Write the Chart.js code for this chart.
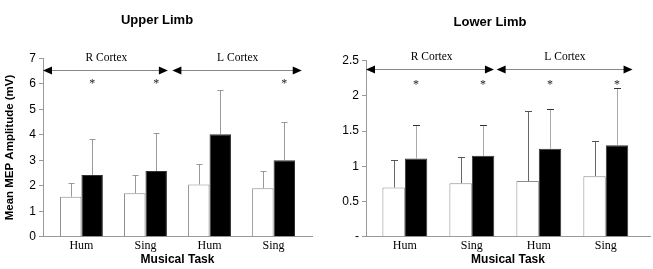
<!DOCTYPE html>
<html>
<head>
<meta charset="utf-8">
<script src="https://cdn.jsdelivr.net/npm/chart.js@4.4.1/dist/chart.umd.min.js"></script>
<style>
  html, body { margin: 0; padding: 0; background: #fff; }
  #wrap { position: relative; width: 653px; height: 269px; }
  #c1 { position: absolute; left: 0; top: 0; }
  #c2 { position: absolute; left: 330px; top: 0; }
</style>
</head>
<body>
<div id="wrap">
  <canvas id="c1" width="330" height="269"></canvas>
  <canvas id="c2" width="323" height="269"></canvas>
</div>
<script>
// ---- data ----
const categories = ['Hum', 'Sing', 'Hum', 'Sing'];

const upperWhite   = [1.57, 1.70, 2.05, 1.90];
const upperBlack   = [2.42, 2.58, 4.02, 3.00];
const upperWhiteSD = [0.52, 0.74, 0.79, 0.66];
const upperBlackSD = [1.40, 1.47, 1.73, 1.49];
const upperSig     = [true, true, false, true];
const upperTicks   = [0, 1, 2, 3, 4, 5, 6, 7];

const lowerWhite   = [0.70, 0.76, 0.79, 0.86];
const lowerBlack   = [1.11, 1.15, 1.25, 1.30];
const lowerWhiteSD = [0.39, 0.37, 1.00, 0.50];
const lowerBlackSD = [0.48, 0.44, 0.57, 0.81];
const lowerSig     = [true, true, true, true];
const lowerTicks   = [0, 0.5, 1, 1.5, 2, 2.5];
const lowerTickLabels = ['-', '0.5', '1', '1.5', '2', '2.5'];

const cortexLabels = ['R Cortex', 'L Cortex'];

const SANS = "'Liberation Sans', Arial, sans-serif";
const SERIF = "'Liberation Serif', 'Times New Roman', serif";

// ---- annotation plugin: error bars, asterisks, arrows, cortex labels ----
const annotPlugin = {
  id: 'annot',
  afterDatasetsDraw(chart, args, o) {
    const ctx = chart.ctx;
    const xs = chart.scales.x, ys = chart.scales.y;
    ctx.save();
    // error bars (upward only)
    o.sds.forEach((sd, d) => {
      const meta = chart.getDatasetMeta(d);
      const vals = chart.data.datasets[d].data;
      meta.data.forEach((bar, i) => {
        const v = vals[i].y;
        const yTop = ys.getPixelForValue(v + sd[i]);
        const x = Math.round(bar.x) + 0.5;
        ctx.strokeStyle = o.errLine[d];
        ctx.lineWidth = 1;
        ctx.beginPath();
        ctx.moveTo(x, bar.y);
        ctx.lineTo(x, Math.round(yTop) + 0.5);
        ctx.stroke();
        ctx.strokeStyle = o.errCap[d];
        ctx.beginPath();
        ctx.moveTo(x - o.cap / 2, Math.round(yTop) + 0.5);
        ctx.lineTo(x + o.cap / 2, Math.round(yTop) + 0.5);
        ctx.stroke();
      });
    });
    // asterisks over black bars
    const bmeta = chart.getDatasetMeta(1);
    ctx.fillStyle = '#222';
    ctx.font = '12px ' + SERIF;
    ctx.textAlign = 'center';
    ctx.textBaseline = 'middle';
    o.sig.forEach((s, i) => {
      if (!s) return;
      ctx.fillText('*', bmeta.data[i].x, ys.getPixelForValue(o.sigY) + 2);
    });
    // arrows
    const ay = Math.round(ys.getPixelForValue(o.arrowY)) + 0.5;
    o.arrows.forEach(([a, b]) => {
      const x0 = xs.getPixelForValue(a), x1 = xs.getPixelForValue(b);
      ctx.strokeStyle = '#888';
      ctx.lineWidth = 1;
      ctx.beginPath();
      ctx.moveTo(x0 + 6, ay);
      ctx.lineTo(x1 - 6, ay);
      ctx.stroke();
      ctx.fillStyle = '#000';
      ctx.beginPath();
      ctx.moveTo(x0, ay); ctx.lineTo(x0 + 9, ay - 4); ctx.lineTo(x0 + 9, ay + 4); ctx.closePath();
      ctx.fill();
      ctx.beginPath();
      ctx.moveTo(x1, ay); ctx.lineTo(x1 - 9, ay - 4); ctx.lineTo(x1 - 9, ay + 4); ctx.closePath();
      ctx.fill();
    });
    // cortex labels
    ctx.fillStyle = '#000';
    ctx.font = '11.5px ' + SERIF;
    ctx.textBaseline = 'middle';
    o.labelX.forEach((lx, k) => {
      ctx.fillText(cortexLabels[k], xs.getPixelForValue(lx), ay - 13);
    });
    ctx.restore();
  }
};

function makeChart(id, cfg) {
  const toXY = arr => arr.map((v, i) => ({ x: i, y: v }));
  return new Chart(document.getElementById(id), {
    type: 'bar',
    data: {
      datasets: [
        { data: toXY(cfg.white), backgroundColor: '#fff', borderColor: '#8c8c8c', borderWidth: 1 },
        { data: toXY(cfg.black), backgroundColor: '#000', borderColor: '#333', borderWidth: 1 }
      ]
    },
    options: {
      responsive: false,
      animation: false,
      events: [],
      layout: { padding: { left: cfg.padLeft, right: cfg.padRight, top: 0, bottom: 0 } },
      datasets: { bar: { categoryPercentage: 0.67, barPercentage: 1.0, grouped: true } },
      plugins: {
        legend: { display: false },
        tooltip: { enabled: false },
        title: {
          display: true, text: cfg.title, color: '#000',
          font: { family: SANS, size: 13, weight: 'bold' },
          padding: { top: cfg.titleTop, bottom: cfg.titleBottom }
        },
        annot: cfg.annot
      },
      scales: {
        x: {
          type: 'linear', min: cfg.xMin, max: cfg.xMax, offset: false,
          afterBuildTicks: s => { s.ticks = categories.map((c, i) => ({ value: i })); },
          afterFit: s => { s.height = 32.3; },
          ticks: {
            callback: v => categories[v], color: '#000', padding: 2,
            font: { family: SERIF, size: 12 }, maxRotation: 0, autoSkip: false
          },
          grid: { display: false, drawTicks: false, tickLength: 0, offset: false },
          border: { display: true, color: '#999', width: 1 },
          title: {
            display: true, text: 'Musical Task', color: '#000',
            font: { family: SANS, size: 12, weight: 'bold' },
            padding: { top: 0, bottom: 2 }
          }
        },
        y: {
          min: 0, max: cfg.yMax,
          afterBuildTicks: s => { s.ticks = cfg.ticks.map(v => ({ value: v })); },
          afterFit: s => { s.width = cfg.yWidth; },
          ticks: {
            callback: cfg.tickCb, color: '#000', padding: 3,
            font: { family: SANS, size: 12 }
          },
          grid: { drawOnChartArea: false, drawTicks: true, tickLength: 4, color: '#999' },
          border: { display: true, color: '#999', width: 1 },
          title: {
            display: cfg.yTitle !== '', text: cfg.yTitle, color: '#000',
            font: { family: SANS, size: 11.5, weight: 'bold' },
            padding: { top: 1, bottom: 0 }
          }
        }
      }
    },
    plugins: [annotPlugin]
  });
}

makeChart('c1', {
  title: 'Upper Limb', titleTop: 12.2, titleBottom: 30.5,
  padLeft: 2, padRight: 18, yWidth: 41,
  white: upperWhite, black: upperBlack,
  xMin: -0.6, xMax: 3.6, yMax: 7,
  ticks: upperTicks, tickCb: v => String(v),
  yTitle: 'Mean MEP Amplitude (mV)',
  annot: {
    sds: [upperWhiteSD, upperBlackSD],
    errLine: ['#999', '#999'], errCap: ['#999', '#999'], cap: 6,
    sig: upperSig, sigY: 6.08,
    arrowY: 6.56, arrows: [[-0.6, 1.35], [1.42, 3.44]],
    labelX: [0.39, 2.44]
  }
});

makeChart('c2', {
  title: 'Lower Limb', titleTop: 14.2, titleBottom: 30.9,
  padLeft: 0, padRight: 3, yWidth: 36,
  white: lowerWhite, black: lowerBlack,
  xMin: -0.58, xMax: 3.66, yMax: 2.5,
  ticks: lowerTicks, tickCb: v => lowerTickLabels[lowerTicks.indexOf(v)],
  yTitle: '',
  annot: {
    sds: [lowerWhiteSD, lowerBlackSD],
    errLine: ['#666', '#aaa'], errCap: ['#555', '#333'], cap: 7,
    sig: lowerSig, sigY: 2.19,
    arrowY: 2.38, arrows: [[-0.58, 1.33], [1.37, 3.40]],
    labelX: [0.40, 2.39]
  }
});
</script>
</body>
</html>
